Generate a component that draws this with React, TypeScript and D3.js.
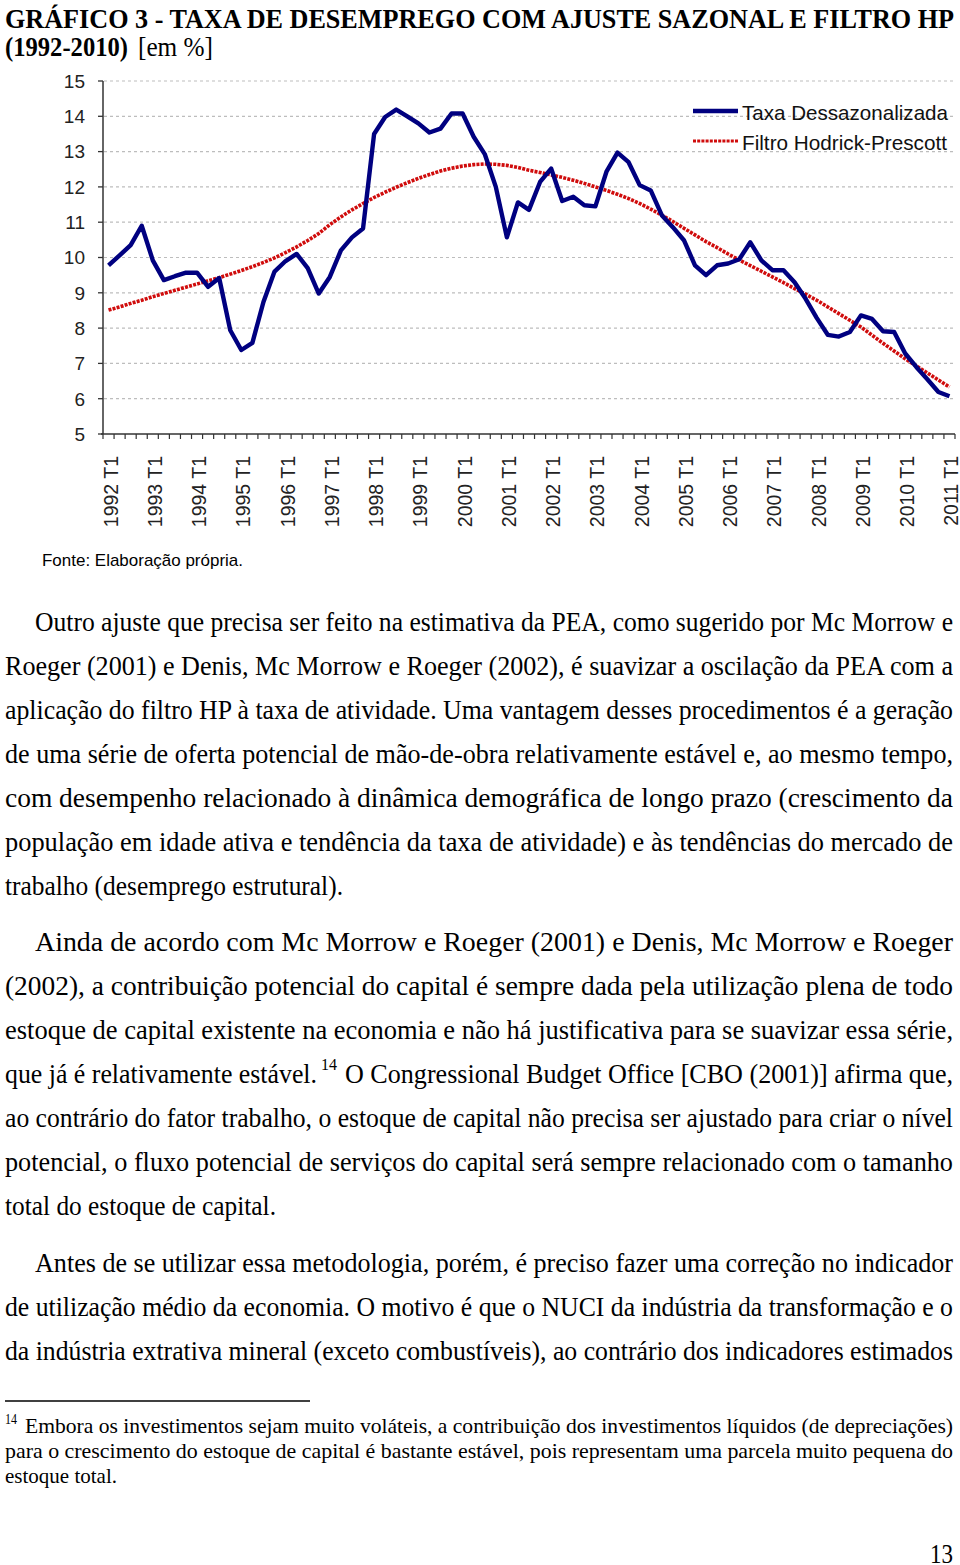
import React, { useEffect, useRef } from 'react';
import * as d3 from 'd3';

// eixo x: trimestres de 1992 T1 a 2011 T1
const years = ['1992', '1993', '1994', '1995', '1996', '1997', '1998', '1999', '2000', '2001',
  '2002', '2003', '2004', '2005', '2006', '2007', '2008', '2009', '2010', '2011'];
const quarters = ['T1', 'T2', 'T3', 'T4'];

// Taxa Dessazonalizada (%)
const taxa = [
  9.78, 10.06, 10.35, 10.9, 9.92, 9.36, 9.47, 9.57, 9.57, 9.17,
  9.42, 7.94, 7.38, 7.58, 8.74, 9.6, 9.9, 10.1, 9.7, 8.98,
  9.45, 10.2, 10.57, 10.82, 13.5, 13.98, 14.19, 14.0, 13.8, 13.54,
  13.65, 14.08, 14.08, 13.42, 12.93, 12.0, 10.57, 11.56, 11.35, 12.14,
  12.52, 11.6, 11.72, 11.48, 11.45, 12.43, 12.97, 12.7, 12.05, 11.9,
  11.2, 10.86, 10.49, 9.78, 9.5, 9.78, 9.83, 9.95, 10.43, 9.92,
  9.64, 9.64, 9.3, 8.83, 8.29, 7.81, 7.76, 7.89, 8.36, 8.26,
  7.91, 7.89, 7.28, 6.9, 6.55, 6.19, 6.07
];

// Filtro Hodrick-Prescott (%)
const hp = [
  8.51, 8.6, 8.7, 8.79, 8.89, 8.98, 9.07, 9.16, 9.25, 9.34,
  9.43, 9.53, 9.63, 9.74, 9.86, 9.99, 10.14, 10.3, 10.48, 10.68,
  10.93, 11.15, 11.35, 11.53, 11.7, 11.85, 11.99, 12.12, 12.24, 12.35,
  12.45, 12.53, 12.59, 12.63, 12.65, 12.64, 12.61, 12.55, 12.47, 12.41,
  12.34, 12.27, 12.19, 12.1, 12.0, 11.9, 11.79, 11.67, 11.53, 11.37,
  11.2, 11.02, 10.83, 10.64, 10.45, 10.28, 10.1, 9.93, 9.77, 9.61,
  9.45, 9.29, 9.12, 8.96, 8.79, 8.6, 8.41, 8.22, 8.03, 7.8,
  7.57, 7.35, 7.13, 6.93, 6.73, 6.53, 6.33
];

const yTicks = [5, 6, 7, 8, 9, 10, 11, 12, 13, 14, 15];
const seriesNames = ['Taxa Dessazonalizada', 'Filtro Hodrick-Prescott'];

// texto da página: [texto, x inicial, x final, linha de base]
const para1 = [
  ['Outro ajuste que precisa ser feito na estimativa da PEA, como sugerido por Mc Morrow e', 35, 953, 631],
  ['Roeger (2001) e Denis, Mc Morrow e Roeger (2002), é suavizar a oscilação da PEA com a', 5, 953, 675],
  ['aplicação do filtro HP à taxa de atividade. Uma vantagem desses procedimentos é a geração', 5, 953, 719],
  ['de uma série de oferta potencial de mão-de-obra relativamente estável e, ao mesmo tempo,', 5, 953, 763],
  ['com desempenho relacionado à dinâmica demográfica de longo prazo (crescimento da', 5, 953, 807],
  ['população em idade ativa e tendência da taxa de atividade) e às tendências do mercado de', 5, 953, 851],
  ['trabalho (desemprego estrutural).', 5, 343, 895],
];
const para2 = [
  ['Ainda de acordo com Mc Morrow e Roeger (2001) e Denis, Mc Morrow e Roeger', 35, 953, 951],
  ['(2002), a contribuição potencial do capital é sempre dada pela utilização plena de todo', 5, 953, 995],
  ['estoque de capital existente na economia e não há justificativa para se suavizar essa série,', 5, 953, 1039],
  ['que já é relativamente estável.', 5, 317, 1083],
  ['O Congressional Budget Office [CBO (2001)] afirma que,', 345, 953, 1083],
  ['ao contrário do fator trabalho, o estoque de capital não precisa ser ajustado para criar o nível', 5, 953, 1127],
  ['potencial, o fluxo potencial de serviços do capital será sempre relacionado com o tamanho', 5, 953, 1171],
  ['total do estoque de capital.', 5, 276, 1215],
];
const para3 = [
  ['Antes de se utilizar essa metodologia, porém, é preciso fazer uma correção no indicador', 35, 953, 1272],
  ['de utilização médio da economia. O motivo é que o NUCI da indústria da transformação e o', 5, 953, 1316],
  ['da indústria extrativa mineral (exceto combustíveis), ao contrário dos indicadores estimados', 5, 953, 1360],
];
const footnote = [
  ['Embora os investimentos sejam muito voláteis, a contribuição dos investimentos líquidos (de depreciações)', 25, 953, 1433],
  ['para o crescimento do estoque de capital é bastante estável, pois representam uma parcela muito pequena do', 5, 953, 1458],
  ['estoque total.', 5, 117, 1483],
];

const App = () => {
  const ref = useRef<SVGSVGElement>(null);

  useEffect(() => {
    const svg = d3.select(ref.current);
    svg.selectAll('*').remove();

    const serif = '"Liberation Serif", "Times New Roman", serif';
    const sans = '"Liberation Sans", Arial, sans-serif';

    const addLine = (g: any, t: any, x0: number, x1: number, y: number, size: number, weight = 'normal') => {
      g.append('text')
        .attr('x', x0).attr('y', y)
        .attr('font-size', size)
        .attr('font-weight', weight)
        .attr('textLength', x1 - x0)
        .attr('lengthAdjust', 'spacingAndGlyphs')
        .text(t);
    };

    // título
    const title = svg.append('g').attr('font-family', serif).attr('fill', '#000');
    addLine(title, 'GRÁFICO 3 - TAXA DE DESEMPREGO COM AJUSTE SAZONAL E FILTRO HP', 5, 954, 28, 27, 'bold');
    addLine(title, '(1992-2010)', 5, 128, 56, 27, 'bold');
    addLine(title, '[em %]', 138, 213, 56, 27);

    // gráfico
    const categories = years.flatMap(y => quarters.map(q => `${y} ${q}`)).slice(0, taxa.length);
    const x = d3.scaleBand().domain(categories).range([103, 955]);
    const y = d3.scaleLinear().domain([5, 15]).range([434, 81]);
    const cx = (i: number) => (x(categories[i]) as number) + x.bandwidth() / 2;

    const chart = svg.append('g').attr('font-family', sans);

    chart.append('g')
      .selectAll('line')
      .data(yTicks.filter(d => d > 5))
      .enter().append('line')
      .attr('x1', 104).attr('x2', 955)
      .attr('y1', d => y(d)).attr('y2', d => y(d))
      .attr('stroke', '#bdbdbd')
      .attr('stroke-width', 1.2)
      .attr('stroke-dasharray', '3,3');

    // eixo y
    chart.append('line')
      .attr('x1', 103).attr('x2', 103)
      .attr('y1', y(15)).attr('y2', y(5))
      .attr('stroke', '#333').attr('stroke-width', 1.5);
    chart.append('g')
      .selectAll('line')
      .data(yTicks)
      .enter().append('line')
      .attr('x1', 98).attr('x2', 103)
      .attr('y1', d => y(d)).attr('y2', d => y(d))
      .attr('stroke', '#333').attr('stroke-width', 1.3);
    chart.append('g')
      .selectAll('text')
      .data(yTicks)
      .enter().append('text')
      .attr('x', 85)
      .attr('y', d => y(d))
      .attr('dy', '0.36em')
      .attr('text-anchor', 'end')
      .attr('font-size', 19)
      .attr('fill', '#222')
      .text(d => d);

    // eixo x
    chart.append('line')
      .attr('x1', 101).attr('x2', 955)
      .attr('y1', y(5)).attr('y2', y(5))
      .attr('stroke', '#333').attr('stroke-width', 1.5);
    const bounds = categories.map(c => x(c) as number).concat([x.range()[1]]);
    chart.append('g')
      .selectAll('line')
      .data(bounds)
      .enter().append('line')
      .attr('x1', d => d).attr('x2', d => d)
      .attr('y1', y(5)).attr('y2', y(5) + 5)
      .attr('stroke', '#333').attr('stroke-width', 1.2);
    chart.append('g')
      .selectAll('text')
      .data(categories.filter(c => c.endsWith('T1')))
      .enter().append('text')
      .attr('transform', d => `translate(${(x(d) as number) + x.bandwidth() / 2 + 9},456) rotate(-90)`)
      .attr('text-anchor', 'end')
      .attr('font-size', 19.5)
      .attr('fill', '#222')
      .text(d => d);

    const line = d3.line<number>()
      .x((d, i) => cx(i))
      .y(d => y(d));

    chart.append('path')
      .attr('d', line(hp))
      .attr('fill', 'none')
      .attr('stroke', '#d00c0c')
      .attr('stroke-width', 3.6)
      .attr('stroke-dasharray', '3,1.2');

    chart.append('path')
      .attr('d', line(taxa))
      .attr('fill', 'none')
      .attr('stroke', '#000080')
      .attr('stroke-width', 4.4)
      .attr('stroke-linejoin', 'round');

    // legenda
    const legend = chart.append('g');
    legend.append('line')
      .attr('x1', 693).attr('x2', 738).attr('y1', 111).attr('y2', 111)
      .attr('stroke', '#000080').attr('stroke-width', 4.4);
    legend.append('line')
      .attr('x1', 693).attr('x2', 738).attr('y1', 141).attr('y2', 141)
      .attr('stroke', '#d00c0c').attr('stroke-width', 3.2)
      .attr('stroke-dasharray', '3,1.2');
    legend.selectAll('text')
      .data(seriesNames)
      .enter().append('text')
      .attr('x', 742)
      .attr('y', (d, i) => 120 + i * 30)
      .attr('font-size', 21)
      .attr('fill', '#111')
      .attr('textLength', (d, i) => (i === 0 ? 206 : 205))
      .attr('lengthAdjust', 'spacingAndGlyphs')
      .text(d => d);

    // fonte
    addLine(svg.append('g').attr('font-family', sans), 'Fonte: Elaboração própria.', 42, 243, 566, 17);

    // corpo do texto
    const body = svg.append('g').attr('font-family', serif).attr('fill', '#000');
    [...para1, ...para2, ...para3].forEach(d => addLine(body, d[0], d[1] as number, d[2] as number, d[3] as number, 26.5));
    addLine(body, '14', 321, 337, 1070, 17);

    // nota de rodapé
    svg.append('line')
      .attr('x1', 5).attr('x2', 310).attr('y1', 1401).attr('y2', 1401)
      .attr('stroke', '#000').attr('stroke-width', 1.4);
    const notes = svg.append('g').attr('font-family', serif).attr('fill', '#000');
    addLine(notes, '14', 5, 17, 1424, 14);
    footnote.forEach(d => addLine(notes, d[0], d[1] as number, d[2] as number, d[3] as number, 22));

    addLine(notes, '13', 930, 953, 1563, 27);
  }, []);

  return (
    <svg
      ref={ref}
      width={960}
      height={1565}
      style={{ position: 'absolute', left: 0, top: 0, background: '#fff' }}
    />
  );
};

export default App;
